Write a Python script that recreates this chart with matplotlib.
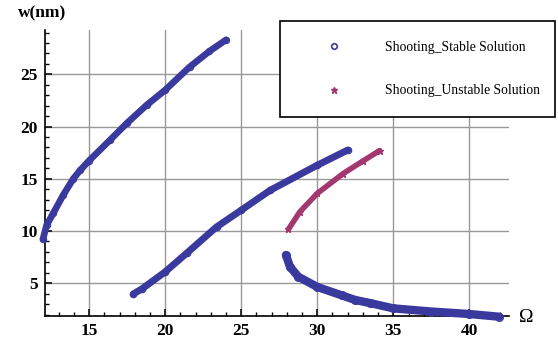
import matplotlib
matplotlib.use("Agg")
import matplotlib.pyplot as plt
from matplotlib.lines import Line2D
from matplotlib.ticker import MultipleLocator

# Data
stable1_omega = [11.95, 12.2, 12.63, 13.29, 13.95, 14.39, 15.0, 16.36, 17.46, 18.78, 20.0, 21.6, 22.9, 24.0]
stable1_w = [9.2, 10.58, 11.7, 13.45, 15.0, 15.8, 16.75, 18.7, 20.3, 22.06, 23.5, 25.7, 27.2, 28.3]

stable2_omega = [17.9, 18.5, 20.0, 21.4, 23.38, 25.0, 26.9, 30.0, 32.0]
stable2_w = [3.98, 4.5, 6.1, 7.87, 10.4, 12.0, 13.9, 16.3, 17.75]

unstable_omega = [28.1, 28.86, 30.0, 31.7, 33.0, 34.1]
unstable_w = [10.17, 11.85, 13.6, 15.5, 16.7, 17.7]

stable3_omega = [27.94, 28.2, 28.75, 30.0, 31.6, 32.5, 33.5, 35.0, 37.5, 40.0, 41.97]
stable3_w = [7.7, 6.59, 5.63, 4.65, 3.85, 3.4, 3.1, 2.6, 2.3, 2.06, 1.8]

x_ticks = [15, 20, 25, 30, 35, 40]
y_ticks = [5, 10, 15, 20, 25]
legend_labels = ["Shooting_Stable Solution", "Shooting_Unstable Solution"]

blue = "#3a3a9e"
purple = "#a3386f"
serif = ["Liberation Serif", "DejaVu Serif"]

fig = plt.figure(figsize=(5.58, 3.45), dpi=100)
ax = fig.add_axes([45 / 558, 1 - 316 / 345, (509 - 45) / 558, (316 - 30) / 345])
ax.set_xlim(12.09, 42.61)
ax.set_ylim(1.87, 29.24)

for s in ["top", "right"]:
    ax.spines[s].set_visible(False)
for s in ["left", "bottom"]:
    ax.spines[s].set_linewidth(1.2)
    ax.spines[s].set_color("black")

ax.set_xticks(x_ticks)
ax.set_yticks(y_ticks)
ax.xaxis.set_minor_locator(MultipleLocator(1))
ax.yaxis.set_minor_locator(MultipleLocator(1))
ax.tick_params(which="major", direction="in", length=5, width=1.1, pad=5)
ax.tick_params(which="minor", direction="in", length=3, width=1.0)
for lab in ax.get_xticklabels() + ax.get_yticklabels():
    lab.set_fontfamily(serif)
    lab.set_fontweight("bold")
    lab.set_fontsize(12.5)

ax.grid(True, which="major", color="#999999", linewidth=1.0)
ax.set_axisbelow(True)

# curves: dense markers imitated by thick band + open markers
for om, w, lw in [(stable1_omega, stable1_w, 4.8), (stable2_omega, stable2_w, 5), (stable3_omega, stable3_w, 6)]:
    ax.plot(om, w, color=blue, lw=lw, solid_capstyle="round", solid_joinstyle="round",
            clip_on=False, zorder=3)
    ax.plot(om, w, ls="none", marker="o", ms=lw - 0.5, mfc="none", mec=blue, mew=1.0,
            clip_on=False, zorder=3)
ax.plot(unstable_omega, unstable_w, color=purple, lw=4, solid_capstyle="round",
        solid_joinstyle="round", clip_on=False, zorder=3)
ax.plot(unstable_omega, unstable_w, ls="none", marker="*", ms=5, color=purple, clip_on=False, zorder=3)

fig.text(42 / 558, 1 - 13 / 345, "w(nm)", ha="center", va="center",
         fontfamily=serif, fontweight="bold", fontsize=12.5)
fig.text(526 / 558, 1 - 317 / 345, "Ω", ha="center", va="center",
         fontfamily=serif, fontsize=14)

handles = [
    Line2D([], [], ls="none", marker="o", ms=4, mfc="none", mec=blue, mew=1.2),
    Line2D([], [], ls="none", marker="*", ms=5, color=purple),
]
x0, x1 = 280 / 558, 555 / 558
ytop = 1 - 21 / 345
leg = fig.legend(handles, legend_labels, loc="upper left",
                 bbox_to_anchor=(x0, ytop - 0.3, x1 - x0, 0.3), bbox_transform=fig.transFigure,
                 mode="expand",
                 prop={"family": serif, "size": 9.8}, frameon=True, fancybox=False,
                 borderpad=1.45, handlelength=5.1, handletextpad=1.2, labelspacing=2.25,
                 borderaxespad=0)
leg.get_frame().set_edgecolor("black")
leg.get_frame().set_linewidth(1.2)
leg.get_frame().set_alpha(1)
leg.set_zorder(10)

fig.savefig("out.png", dpi=100)
